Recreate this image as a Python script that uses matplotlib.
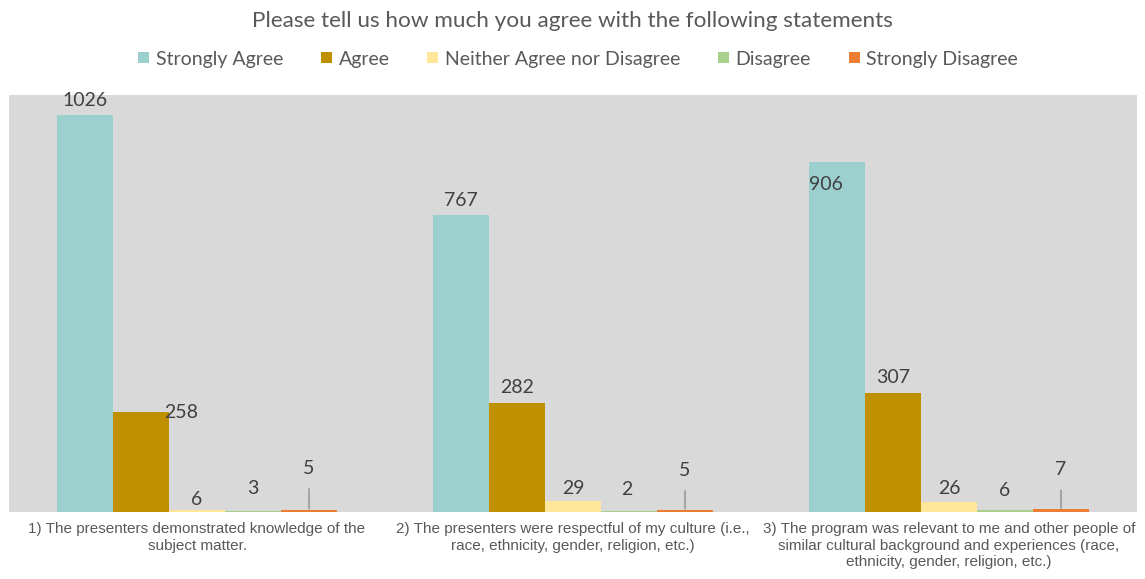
import matplotlib
matplotlib.use("Agg")
import matplotlib.pyplot as plt
import matplotlib.patches as mpatches
import numpy as np

# ---- data ----
title = "Please tell us how much you agree with the following statements"
categories = [
    "1) The presenters demonstrated knowledge of the\nsubject matter.",
    "2) The presenters were respectful of my culture (i.e.,\nrace, ethnicity, gender, religion, etc.)",
    "3) The program was relevant to me and other people of\nsimilar cultural background and experiences (race,\nethnicity, gender, religion, etc.)",
]
series_names = ["Strongly Agree", "Agree", "Neither Agree nor Disagree", "Disagree", "Strongly Disagree"]
strongly_agree = [1026, 767, 906]
agree = [258, 282, 307]
neither = [6, 29, 26]
disagree = [3, 2, 6]
strongly_disagree = [5, 5, 7]
series_values = [strongly_agree, agree, neither, disagree, strongly_disagree]

# ---- style ----
colors = ["#9BD0CF", "#BF9000", "#FFE699", "#A9D18E", "#ED7D31"]
bg = "#D9D9D9"
# label offsets (pixels) per series, per category: (dx, dy)
label_offsets = [
    [(0, 15), (0, 15), (-11, -23)],
    [(40, 0), (0, 15), (0, 16)],
    [(0, 10), (0, 12), (0, 13)],
    [(0, 22), (-2, 22), (0, 19)],
    [(0, 42), (0, 40), (0, 40)],
]
leader = [False, False, False, False, True]

plt.rcParams["font.family"] = ["Lato", "DejaVu Sans"]

fig = plt.figure(figsize=(11.45, 5.79), dpi=100)
ax = fig.add_axes([9 / 1145, 1 - 512 / 579, 1128 / 1145, 417 / 579])
ax.set_facecolor(bg)

x = np.arange(len(categories))
w = 56 / 376
n = len(series_names)
for i, (name, vals, col) in enumerate(zip(series_names, series_values, colors)):
    pos = x + (i - (n - 1) / 2) * w
    ax.bar(pos, vals, width=w, color=col, label=name, zorder=2)
    for j, (p, v) in enumerate(zip(pos, vals)):
        dx, dy = label_offsets[i][j]
        kw = {}
        if leader[i]:
            kw["arrowprops"] = dict(arrowstyle="-", color="#A6A6A6", lw=1.5,
                                    shrinkA=7, shrinkB=1)
        ax.annotate(str(v), xy=(p, v), xytext=(dx, dy), textcoords="offset pixels",
                    ha="center", va="center", fontsize=14, color="#404040",
                    zorder=3, **kw)

ax.set_xlim(-0.5, len(categories) - 0.5)
ax.set_ylim(0, 1078)
ax.set_yticks([])
ax.set_xticks(x)
ax.set_xticklabels(categories, fontsize=11, color="#595959",
                   family=["Liberation Sans", "DejaVu Sans"], linespacing=1.2)
ax.tick_params(axis="x", length=0, pad=7.5)
for s in ax.spines.values():
    s.set_visible(False)

fig.text(0.5, 1 - 21 / 579, title, ha="center", va="center", fontsize=16.2, color="#595959")

handles = [mpatches.Patch(facecolor=c, edgecolor="none") for c in colors]
fig.legend(handles, series_names, loc="center", bbox_to_anchor=(0.505, 1 - 59 / 579),
           ncol=5, frameon=False, fontsize=14, labelcolor="#595959",
           handlelength=0.55, handleheight=0.55, handletextpad=0.35, columnspacing=1.95)

fig.savefig("out.png", dpi=100)
